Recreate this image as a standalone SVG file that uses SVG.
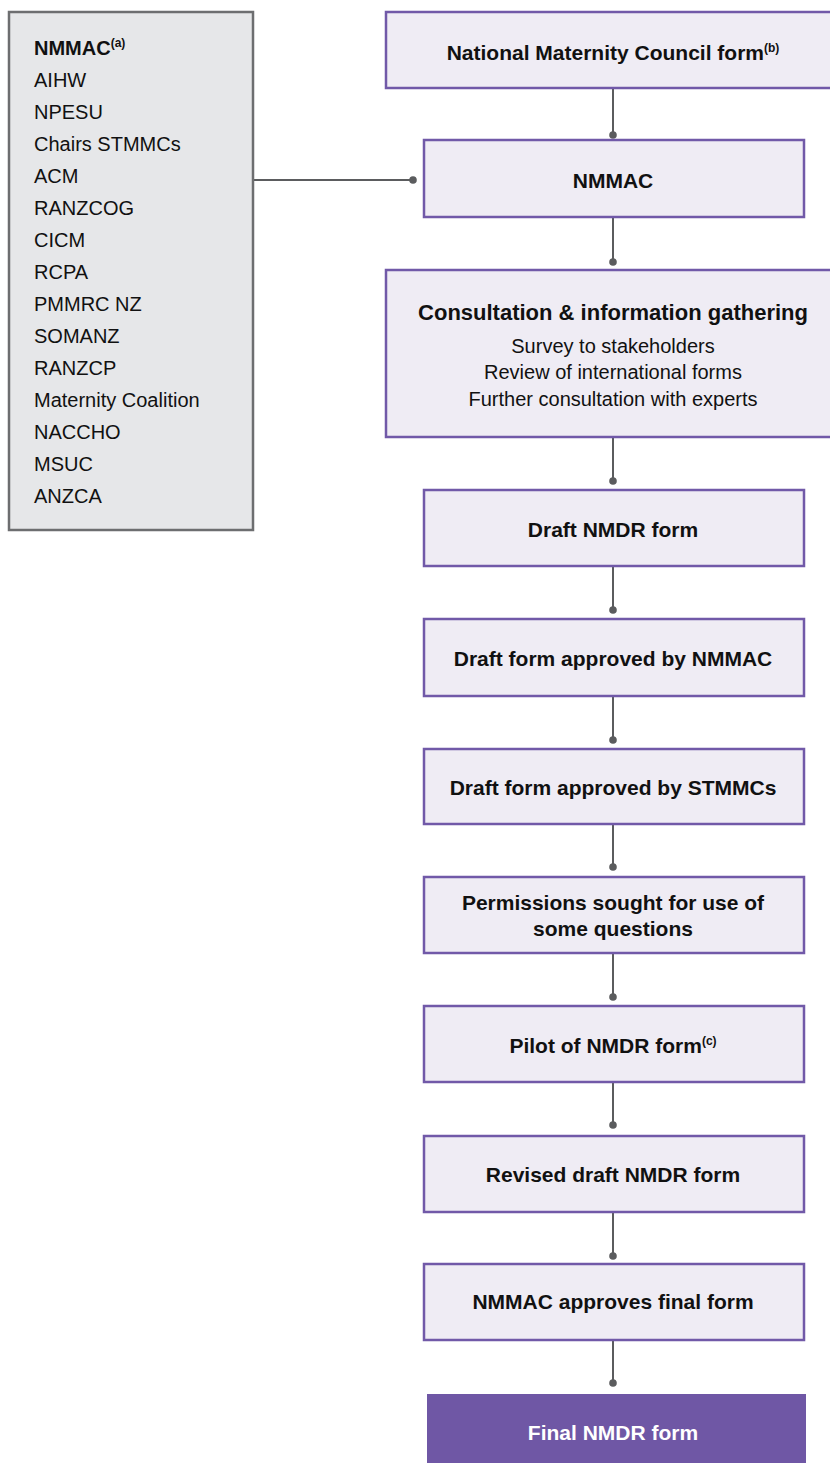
<svg xmlns="http://www.w3.org/2000/svg" width="830" height="1463" viewBox="0 0 830 1463">
  <style>
    .step { fill: #efecf4; stroke: #7159a8; stroke-width: 2.5; }
    .final { fill: #6f57a5; }
    .members { fill: #e6e7e9; stroke: #6d6e70; stroke-width: 2.5; }
    .label { font-family: "Liberation Sans", Arial, sans-serif; font-size: 21px; font-weight: bold; fill: #111; text-anchor: middle; }
    .title { font-family: "Liberation Sans", Arial, sans-serif; font-size: 22px; font-weight: bold; fill: #111; text-anchor: middle; }
    .sub { font-family: "Liberation Sans", Arial, sans-serif; font-size: 20px; fill: #111; text-anchor: middle; }
    .list { font-family: "Liberation Sans", Arial, sans-serif; font-size: 20px; fill: #111; }
    .sup { font-size: 12px; }
    .link { stroke: #5b5c5e; stroke-width: 2; fill: none; }
    .dot { fill: #5b5c5e; }
  </style>

  <!-- connectors -->
  <g id="connectors">
    <line class="link" x1="253" y1="180" x2="413" y2="180"/>
    <circle class="dot" cx="413" cy="180" r="3.8"/>
    <line class="link" x1="613" y1="88" x2="613" y2="135"/>
    <circle class="dot" cx="613" cy="135" r="3.8"/>
    <line class="link" x1="613" y1="217" x2="613" y2="262"/>
    <circle class="dot" cx="613" cy="262" r="3.8"/>
    <line class="link" x1="613" y1="437" x2="613" y2="481"/>
    <circle class="dot" cx="613" cy="481" r="3.8"/>
    <line class="link" x1="613" y1="566" x2="613" y2="610"/>
    <circle class="dot" cx="613" cy="610" r="3.8"/>
    <line class="link" x1="613" y1="696" x2="613" y2="740"/>
    <circle class="dot" cx="613" cy="740" r="3.8"/>
    <line class="link" x1="613" y1="824" x2="613" y2="867"/>
    <circle class="dot" cx="613" cy="867" r="3.8"/>
    <line class="link" x1="613" y1="953" x2="613" y2="997"/>
    <circle class="dot" cx="613" cy="997" r="3.8"/>
    <line class="link" x1="613" y1="1082" x2="613" y2="1125"/>
    <circle class="dot" cx="613" cy="1125" r="3.8"/>
    <line class="link" x1="613" y1="1212" x2="613" y2="1256"/>
    <circle class="dot" cx="613" cy="1256" r="3.8"/>
    <line class="link" x1="613" y1="1340" x2="613" y2="1383"/>
    <circle class="dot" cx="613" cy="1383" r="3.8"/>
  </g>

  <!-- member organisations -->
  <g id="members">
    <rect class="members" x="9" y="12" width="244" height="518"/>
    <text class="list" x="34" y="55"><tspan font-weight="bold">NMMAC</tspan><tspan class="sup" font-weight="bold" dy="-8">(a)</tspan></text>
    <text class="list" x="34" y="87">AIHW</text>
    <text class="list" x="34" y="119">NPESU</text>
    <text class="list" x="34" y="151">Chairs STMMCs</text>
    <text class="list" x="34" y="183">ACM</text>
    <text class="list" x="34" y="215">RANZCOG</text>
    <text class="list" x="34" y="247">CICM</text>
    <text class="list" x="34" y="279">RCPA</text>
    <text class="list" x="34" y="311">PMMRC NZ</text>
    <text class="list" x="34" y="343">SOMANZ</text>
    <text class="list" x="34" y="375">RANZCP</text>
    <text class="list" x="34" y="407">Maternity Coalition</text>
    <text class="list" x="34" y="439">NACCHO</text>
    <text class="list" x="34" y="471">MSUC</text>
    <text class="list" x="34" y="503">ANZCA</text>
  </g>

  <g id="council-form">
    <rect class="step" x="386" y="12" width="460" height="76"/>
    <text class="label" x="613" y="60">National Maternity Council form<tspan class="sup" dy="-8">(b)</tspan></text>
  </g>

  <g id="nmmac">
    <rect class="step" x="424" y="140" width="380" height="77"/>
    <text class="label" x="613" y="188">NMMAC</text>
  </g>

  <g id="consultation">
    <rect class="step" x="386" y="270" width="460" height="167"/>
    <text class="title" x="613" y="320">Consultation &amp; information gathering</text>
    <text class="sub" x="613" y="353">Survey to stakeholders</text>
    <text class="sub" x="613" y="379">Review of international forms</text>
    <text class="sub" x="613" y="406">Further consultation with experts</text>
  </g>

  <g id="draft-form">
    <rect class="step" x="424" y="490" width="380" height="76"/>
    <text class="label" x="613" y="537">Draft NMDR form</text>
  </g>

  <g id="approved-nmmac">
    <rect class="step" x="424" y="619" width="380" height="77"/>
    <text class="label" x="613" y="666">Draft form approved by NMMAC</text>
  </g>

  <g id="approved-stmmcs">
    <rect class="step" x="424" y="749" width="380" height="75"/>
    <text class="label" x="613" y="795">Draft form approved by STMMCs</text>
  </g>

  <g id="permissions">
    <rect class="step" x="424" y="877" width="380" height="76"/>
    <text class="label" x="613" y="910">Permissions sought for use of</text>
    <text class="label" x="613" y="936">some questions</text>
  </g>

  <g id="pilot">
    <rect class="step" x="424" y="1006" width="380" height="76"/>
    <text class="label" x="613" y="1053">Pilot of NMDR form<tspan class="sup" dy="-8">(c)</tspan></text>
  </g>

  <g id="revised-draft">
    <rect class="step" x="424" y="1136" width="380" height="76"/>
    <text class="label" x="613" y="1182">Revised draft NMDR form</text>
  </g>

  <g id="final-approval">
    <rect class="step" x="424" y="1264" width="380" height="76"/>
    <text class="label" x="613" y="1309">NMMAC approves final form</text>
  </g>

  <g id="final-form">
    <rect class="final" x="427" y="1394" width="379" height="75"/>
    <text class="label" x="613" y="1440" fill="#ffffff" style="fill:#ffffff">Final NMDR form</text>
  </g>
</svg>
